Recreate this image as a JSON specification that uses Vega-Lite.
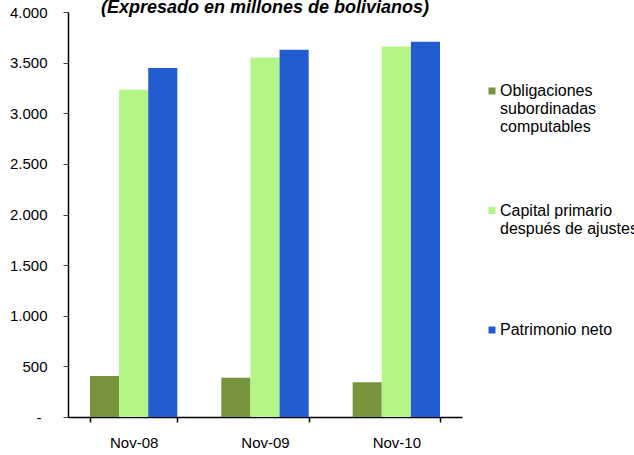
{
  "$schema": "https://vega.github.io/schema/vega-lite/v6.json",
  "width": 394,
  "height": 405,
  "autosize": "none",
  "padding": {"left": 68, "top": 12, "right": 172, "bottom": 38},
  "background": "white",
  "title": {
    "text": "(Expresado en millones de bolivianos)",
    "font": "Liberation Sans",
    "fontSize": 18,
    "fontWeight": "bold",
    "fontStyle": "italic",
    "anchor": "middle",
    "offset": 0,
    "baseline": "alphabetic",
    "dy": 26,
    "color": "black"
  },
  "data": {
    "values": [
      {"periodo": "Nov-08", "serie": "Obligaciones subordinadas computables", "valor": 405},
      {"periodo": "Nov-08", "serie": "Capital primario después de ajustes", "valor": 3231},
      {"periodo": "Nov-08", "serie": "Patrimonio neto", "valor": 3446},
      {"periodo": "Nov-09", "serie": "Obligaciones subordinadas computables", "valor": 388},
      {"periodo": "Nov-09", "serie": "Capital primario después de ajustes", "valor": 3551},
      {"periodo": "Nov-09", "serie": "Patrimonio neto", "valor": 3627},
      {"periodo": "Nov-10", "serie": "Obligaciones subordinadas computables", "valor": 343},
      {"periodo": "Nov-10", "serie": "Capital primario después de ajustes", "valor": 3660},
      {"periodo": "Nov-10", "serie": "Patrimonio neto", "valor": 3706}
    ]
  },
  "mark": {"type": "bar"},
  "encoding": {
    "x": {
      "field": "periodo",
      "type": "nominal",
      "sort": null,
      "title": null,
      "scale": {"paddingInner": 0.335, "paddingOuter": 0.1675},
      "axis": {
        "labelAngle": 0,
        "labelFont": "Liberation Sans",
        "labelFontSize": 15,
        "labelColor": "black",
        "labelPadding": 13,
        "domainColor": "black",
        "domainWidth": 1.5,
        "tickColor": "black",
        "tickSize": 5,
        "tickWidth": 1.5,
        "tickBand": "extent"
      }
    },
    "xOffset": {
      "field": "serie",
      "type": "nominal",
      "sort": ["Obligaciones subordinadas computables", "Capital primario después de ajustes", "Patrimonio neto"]
    },
    "y": {
      "field": "valor",
      "type": "quantitative",
      "title": null,
      "scale": {"domain": [0, 4000]},
      "axis": {
        "values": [0, 500, 1000, 1500, 2000, 2500, 3000, 3500, 4000],
        "labelExpr": "datum.value == 0 ? '-' : replace(format(datum.value, ',d'), ',', '.')",
        "labelFont": "Liberation Sans",
        "labelFontSize": 15,
        "labelColor": "black",
        "labelPadding": {"condition": {"test": "datum.value == 0", "value": 22}, "value": 16},
        "domainColor": "black",
        "domainWidth": 1.5,
        "tickColor": "#444444",
        "tickSize": 5,
        "grid": false
      }
    },
    "color": {
      "field": "serie",
      "type": "nominal",
      "scale": {
        "domain": ["Obligaciones subordinadas computables", "Capital primario después de ajustes", "Patrimonio neto"],
        "range": ["#77933C", "#B3F587", "#235CCF"]
      },
      "legend": {
        "title": null,
        "orient": "none",
        "legendX": 416,
        "legendY": 71,
        "symbolType": "square",
        "symbolSize": 49,
        "symbolStrokeWidth": 0,
        "labelFont": "Liberation Sans",
        "labelFontSize": 16,
        "labelColor": "black",
        "labelLimit": 400,
        "labelOffset": 0,
        "labelBaseline": "middle",
        "rowPadding": 67.5,
        "labelExpr": "datum.label == 'Obligaciones subordinadas computables' ? ['Obligaciones', 'subordinadas', 'computables'] : datum.label == 'Capital primario después de ajustes' ? ['Capital primario', 'después de ajustes', '\u00a0'] : ['Patrimonio neto', '\u00a0', '\u00a0']"
      }
    }
  },
  "config": {"view": {"stroke": null}}
}
